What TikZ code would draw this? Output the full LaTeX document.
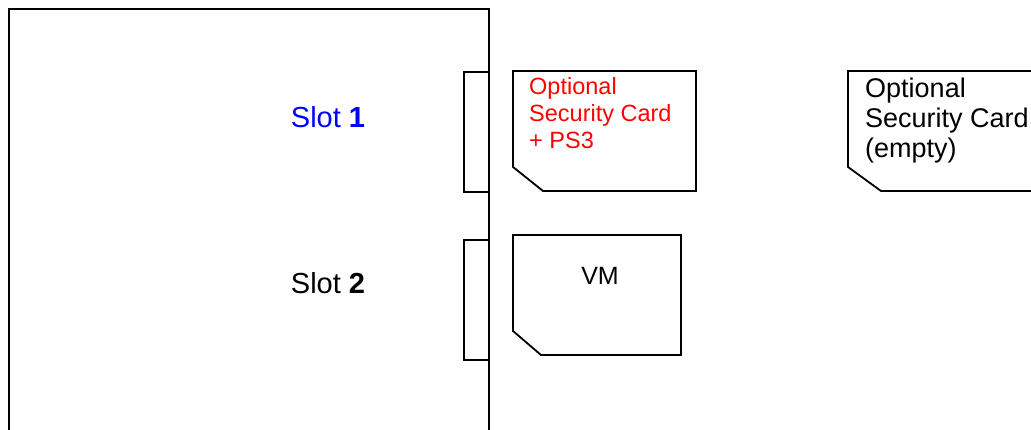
\documentclass[tikz,border=0pt]{standalone}
\usepackage{fontspec}
\setmainfont{Liberation Sans}
\usetikzlibrary{positioning}

\begin{document}
\begin{tikzpicture}[
  x=1pt, y=-1pt,
  outline/.style={draw, line width=1.8pt, line join=miter},
  cardtext/.style={anchor=north west, inner sep=0pt, align=left,
                   font=\fontsize{23.5}{27}\selectfont},
  slotlabel/.style={anchor=base, inner sep=0pt, font=\fontsize{29}{34}\selectfont},
]
\clip (0,0) rectangle (1031,430);

% chassis and slot connectors
\draw[outline, line width=2.2pt] (9,470) -- (9,9) -- (489,9) -- (489,470);
\draw[outline] (489,72) -- (464,72) -- (464,192) -- (489,192);
\draw[outline] (489,240) -- (464,240) -- (464,360) -- (489,360);

\node[slotlabel, text=blue] (slotA) at (328,128) {Slot \textbf{1}};
\node[slotlabel] (slotB) at (328,294) {Slot \textbf{2}};

% cards
\draw[outline] (513,71) -- (696,71) -- (696,191) -- (543,191) -- (513,167) -- cycle;
\draw[outline] (848,71) -- (1045,71) -- (1045,191) -- (881,191) -- (848,167) -- cycle;
\draw[outline] (513,235) -- (681,235) -- (681,355) -- (541,355) -- (513,331) -- cycle;

\node[cardtext, text=red] (secA) at (529,77) {Optional\\Security Card\\+ PS3};
\node[cardtext, font=\fontsize{27}{30}\selectfont] (secB) at (865,78) {Optional\\Security Card\\(empty)};
\node[anchor=base, inner sep=0pt, font=\fontsize{25}{30}\selectfont] (vm) at (600,285) {VM};

\end{tikzpicture}
\end{document}
